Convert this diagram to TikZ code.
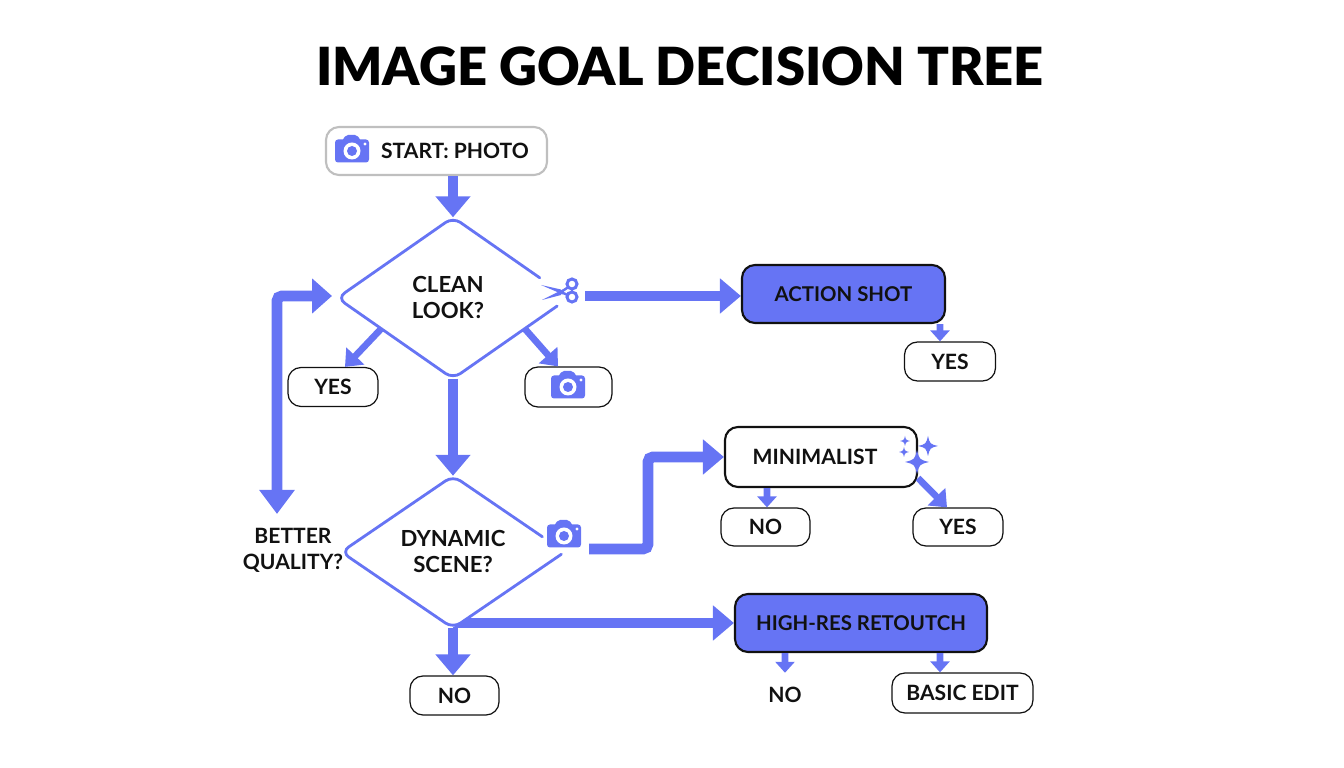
\documentclass[tikz,border=0pt]{standalone}
\usepackage{fontspec}
\usepackage{xcolor}
\usetikzlibrary{arrows.meta, calc, shapes.geometric}
\setmainfont{Lato}
\newfontfamily\titlefont{Lato Black}
\definecolor{flowblue}{HTML}{6674F4}
\definecolor{inkblack}{HTML}{111111}

\tikzset{
    flowbig/.style={flowblue, line width=3.1pt, -{Triangle[length=2.1mm,width=3.4mm]}},
    flowthin/.style={flowblue, line width=1.9pt, -{Triangle[length=1.1mm,width=1.9mm]}},
    flowdiag/.style={flowblue, line width=1.9pt, -{Triangle[length=1.5mm,width=2.4mm]}},
    ansbox/.style={draw=inkblack, line width=0.35pt, fill=white, rounded corners=1.3mm, minimum height=3.9mm, inner sep=0pt, font=\bfseries\fontsize{6}{7}\selectfont, text=inkblack},
    mainbox/.style={draw=inkblack, line width=0.6pt, fill=flowblue, rounded corners=1.3mm, minimum height=5.8mm, inner sep=0pt, font=\bfseries\fontsize{5.8}{7}\selectfont, text=inkblack},
    askdiamond/.style={diamond, fill=white, inner sep=0pt, align=center, font=\bfseries\fontsize{6.3}{7.4}\selectfont, text=inkblack},
    askline/.style={draw=flowblue, line width=0.8pt, line cap=round, rounded corners=0.9mm},
    sparkle/.pic={\fill[flowblue] (0,1) .. controls (0.2,0.2) .. (1,0) .. controls (0.2,-0.2) .. (0,-1) .. controls (-0.2,-0.2) .. (-1,0) .. controls (-0.2,0.2) .. (0,1) -- cycle;},
    camicon/.pic={
        \fill[flowblue, rounded corners=0.3mm] (-0.17,-0.125) rectangle (0.17,0.105);
        \fill[flowblue, rounded corners=0.2mm] (-0.10,0.09) -- (-0.06,0.15) -- (0.05,0.15) -- (0.09,0.09) -- cycle;
        \fill[white] (0,-0.01) circle (0.085);
        \fill[flowblue] (0,-0.01) circle (0.05);
        \fill[white] (0.13,0.06) circle (0.016);
    },
    scissoricon/.pic={
        \fill[flowblue] (-0.19,0.07) -- (0.03,-0.025) -- (0.01,0.025) -- cycle;
        \fill[flowblue] (-0.18,-0.08) -- (0.03,0.025) -- (0.01,-0.03) -- cycle;
        \draw[flowblue, line width=0.7pt] (0.01,0) -- (0.085,0.05) (0.01,0) -- (0.085,-0.035);
        \draw[flowblue, line width=0.85pt] (0.12,0.08) circle (0.05) (0.12,-0.05) circle (0.05);
    }
}

\begin{document}
\begin{tikzpicture}
    \useasboundingbox (0,0) rectangle (13.44,7.68);
    \node[font=\titlefont\fontsize{14.95}{17}\selectfont, text=black] (title) at (6.80,7.02) {IMAGE GOAL DECISION TREE};

    % Target boxes
    \node[ansbox, draw=black!25, line width=0.6pt, minimum width=22.1mm, minimum height=4.8mm] (start) at (4.365,6.17) {\hspace*{3.7mm}START: PHOTO};
    \node[mainbox, minimum width=20.3mm] (action) at (8.435,4.74) {ACTION SHOT};
    \node[ansbox, line width=0.6pt, minimum width=19.2mm, minimum height=6mm] (minimal) at (8.21,3.11) {MINIMALIST\hspace*{1.2mm}};
    \node[mainbox, minimum width=25.2mm] (highres) at (8.61,1.45) {HIGH-RES RETOUTCH};

    % Arrow behind the lower diamond
    \coordinate (dynamicfoot) at (4.53,1.45);
    \draw[flowbig] (dynamicfoot) -- (highres.west);

    % Decisions
    \node[askdiamond, minimum width=23mm, minimum height=16mm] (clean) at (4.53,4.70) {CLEAN\hspace*{1mm}\\LOOK?\hspace*{1mm}};
    \node[askdiamond, minimum width=22.2mm, minimum height=15.1mm] (dynamic) at (4.53,2.16) {DYNAMIC\\SCENE?};
    \draw[askline] ($(clean.east)!0.25!(clean.north)$) -- (clean.north) -- (clean.west) -- (clean.south) -- ($(clean.east)!0.1!(clean.south)$);
    \draw[askline] ($(dynamic.east)!0.2!(dynamic.north)$) -- (dynamic.north) -- (dynamic.west) -- (dynamic.south) -- ($(dynamic.east)!0.03!(dynamic.south)$);

    % Answers
    \node[ansbox, minimum width=9mm] (yesclean) at (3.33,3.81) {YES};
    \node[ansbox, minimum width=8.7mm, minimum height=4mm] (camclean) at (5.685,3.81) {};
    \node[ansbox, minimum width=9.1mm] (yesaction) at (9.50,4.065) {YES};
    \node[ansbox, minimum width=8.9mm, minimum height=3.8mm] (nominimal) at (7.655,2.41) {NO};
    \node[ansbox, minimum width=9mm, minimum height=3.8mm] (yesminimal) at (9.58,2.41) {YES};
    \node[ansbox, minimum width=8.9mm] (nodynamic) at (4.545,0.725) {NO};
    \node[font=\bfseries\fontsize{6}{7}\selectfont, text=inkblack] (nohighres) at (7.85,0.73) {NO};
    \node[ansbox, minimum width=14.1mm, minimum height=4mm] (basic) at (9.625,0.75) {BASIC EDIT};
    \node[align=center, font=\bfseries\fontsize{6}{7.4}\selectfont, text=inkblack] (better) at (2.93,2.18) {BETTER\\QUALITY?};

    % Free ends
    \coordinate (scissorend) at (5.85,4.72);
    \coordinate (cameraend) at (5.89,2.19);
    \coordinate (loopend) at (2.77,2.54);
    \coordinate (loopturn) at (3.32,4.72);

    % Main flow
    \draw[flowbig] (start.south -| clean.north) -- (clean.north);
    \draw[flowbig] (clean.south) -- (dynamic.north);
    \draw[flowbig] (dynamic.south) -- (nodynamic.north -| dynamic.south);
    \draw[flowbig] (scissorend) -- (action.west |- scissorend);
    \draw[flowbig, rounded corners=0.5mm] (cameraend) -| (6.48,3.11) -- (minimal.west);
    \draw[flowbig, {Triangle[length=2.4mm,width=3.4mm]}-{Triangle[length=2mm,width=3.4mm]}, rounded corners=0.5mm] (loopend) |- (loopturn);

    % Small arrows
    \draw[flowdiag] ($(clean.west)!0.38!(clean.south)$) -- ($(yesclean.north)+(0.12,0)$);
    \draw[flowdiag] ($(clean.south)!0.62!(clean.east)$) -- ($(camclean.north)+(-0.105,0)$);
    \draw[flowthin] ($(action.south)+(0.965,0)$) -- ($(yesaction.north)+(-0.10,0)$);
    \draw[flowthin] ($(minimal.south)+(-0.54,0)$) -- ($(nominimal.north)+(0.015,0)$);
    \draw[flowdiag] ($(minimal.south east)+(0,0.10)$) -- ($(yesminimal.north)+(-0.11,0)$);
    \draw[flowthin] ($(highres.south)+(-0.76,0)$) -- ($(nohighres.north)+(0,0.02)$);
    \draw[flowthin] ($(highres.south)+(0.79,0)$) -- ($(basic.north)+(-0.225,0)$);

    % Icons
    \pic at (3.52,6.18) {camicon};
    \pic at (5.68,3.82) {camicon};
    \pic at (5.64,2.33) {camicon};
    \pic at (5.60,4.76) {scissoricon};
    \pic[scale=0.12] at (9.17,3.06) {sparkle};
    \pic[scale=0.10] at (9.28,3.22) {sparkle};
    \pic[scale=0.05] at (9.05,3.27) {sparkle};
    \pic[scale=0.05] at (9.04,3.16) {sparkle};
\end{tikzpicture}
\end{document}
